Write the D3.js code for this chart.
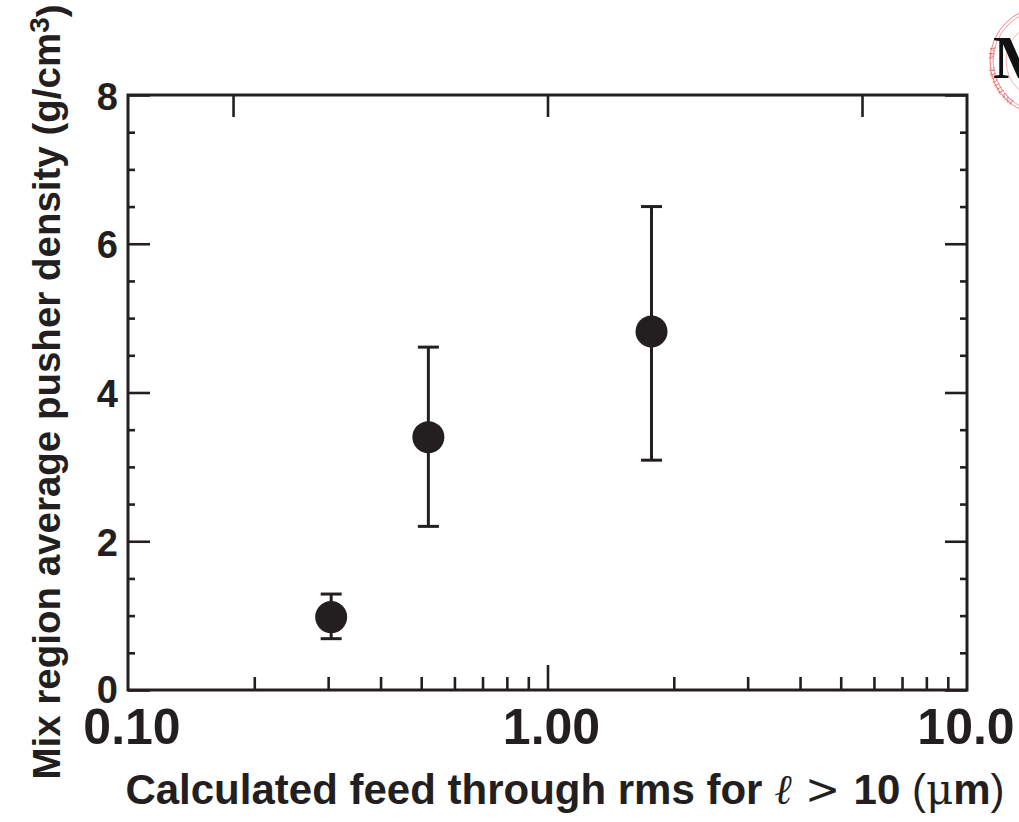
<!DOCTYPE html>
<html>
<head>
<meta charset="utf-8">
<script src="https://cdn.jsdelivr.net/npm/d3@7"></script>
<style>
  body { margin: 0; background: #fff; }
  svg text { font-family: "Liberation Sans", Arial, Helvetica, sans-serif; }
</style>
</head>
<body>
<div id="chart"></div>
<script>
// data
const feed = [0.305, 0.52, 1.77];          // x, rms feed through (um)
const density = [0.98, 3.40, 4.82];        // y, g/cm3
const errLow = [0.69, 2.20, 3.09];
const errHigh = [1.29, 4.61, 6.50];

const xLabels = [0.1, 1, 10];
const xLabelText = ["0.10", "1.00", "10.0"];
const xMinor = [0.2, 0.3, 0.4, 0.5, 0.6, 0.7, 0.8, 0.9, 2, 3, 4, 5, 6, 7, 8, 9];
const xMajor = [1];
const topTicks = [0.178, 1.0, 5.62];
const yMajor = [0, 2, 4, 6, 8];
const yMinor = [0.5, 1, 1.5, 2.5, 3, 3.5, 4.5, 5, 5.5, 6.5, 7, 7.5];

const W = 1019, H = 822;
const ink = "#231f20";

const svg = d3.select("#chart").append("svg")
    .attr("width", W)
    .attr("height", H);

const x = d3.scaleLog().domain([0.1, 10]).range([128, 967]);
const y = d3.scaleLinear().domain([0, 8]).range([690, 95]);

// seal in the corner, cut by the page edge
const seal = svg.append("g").attr("transform", "translate(1044,61)");
seal.append("circle").attr("r", 54).attr("fill", "none").attr("stroke", "#f08080").attr("stroke-width", 1);
seal.append("circle").attr("r", 51).attr("fill", "none").attr("stroke", "#f08080").attr("stroke-width", 0.8);
seal.append("circle").attr("r", 38).attr("fill", "none").attr("stroke", "#f4a0a0").attr("stroke-width", 0.8);
seal.append("path").attr("id", "sealArc")
    .attr("d", "M -30,40 A 50,50 0 0,1 -40,-30")
    .attr("fill", "none");
seal.append("text")
    .attr("font-size", 8)
    .attr("fill", "#e06060")
    .style("font-family", "Liberation Serif, serif")
    .append("textPath")
    .attr("href", "#sealArc")
    .text("INSTITUTE · MA");
seal.append("text")
    .attr("x", -51).attr("y", 17)
    .attr("font-size", 62)
    .attr("font-weight", "bold")
    .attr("fill", "#111")
    .style("font-family", "Liberation Serif, 'DejaVu Serif', serif")
    .text("M");

// ticks, all pointing inward
function ticks(axis, vals, size, tr) {
    const g = svg.append("g").attr("transform", tr)
        .call(axis.tickValues(vals).tickSize(-size).tickFormat(""));
    g.select(".domain").remove();
    g.selectAll("line").attr("stroke", ink).attr("stroke-width", 2.6);
    return g;
}
ticks(d3.axisBottom(x), xMinor, 13, "translate(0,690)");
ticks(d3.axisBottom(x), xMajor, 25, "translate(0,690)");
ticks(d3.axisTop(x), topTicks, 22, "translate(0,95)");
ticks(d3.axisLeft(y), yMajor, 22, "translate(128,0)");
ticks(d3.axisLeft(y), yMinor, 7, "translate(128,0)");
ticks(d3.axisRight(y), yMajor, 22, "translate(967,0)");
ticks(d3.axisRight(y), yMinor, 7, "translate(967,0)");

// frame
svg.append("rect")
    .attr("x", 128).attr("y", 95)
    .attr("width", 967 - 128).attr("height", 690 - 95)
    .attr("fill", "none")
    .attr("stroke", ink)
    .attr("stroke-width", 3);

// tick labels
svg.append("g").selectAll("text")
    .data(yMajor)
    .join("text")
    .attr("x", 118)
    .attr("y", d => y(d) + (d === 0 ? -1 : 1))
    .attr("dy", "0.36em")
    .attr("text-anchor", "end")
    .attr("font-size", 38)
    .attr("font-weight", "bold")
    .attr("fill", ink)
    .text(d => d);

svg.append("g").selectAll("text")
    .data(xLabels)
    .join("text")
    .attr("x", d => x(d) + (d === 10 ? -1 : 4))
    .attr("y", 744)
    .attr("text-anchor", "middle")
    .attr("font-size", 50)
    .attr("font-weight", "bold")
    .attr("fill", ink)
    .text((d, i) => xLabelText[i]);

// error bars and points
const pts = feed.map((f, i) => ({ x: f, y: density[i], lo: errLow[i], hi: errHigh[i] }));
const cap = 10.5;
const pg = svg.append("g");
pg.selectAll("line.bar")
    .data(pts).join("line")
    .attr("class", "bar")
    .attr("x1", d => x(d.x)).attr("x2", d => x(d.x))
    .attr("y1", d => y(d.lo)).attr("y2", d => y(d.hi))
    .attr("stroke", ink).attr("stroke-width", 3);
pg.selectAll("line.capHi")
    .data(pts).join("line")
    .attr("class", "capHi")
    .attr("x1", d => x(d.x) - cap).attr("x2", d => x(d.x) + cap)
    .attr("y1", d => y(d.hi)).attr("y2", d => y(d.hi))
    .attr("stroke", ink).attr("stroke-width", 3);
pg.selectAll("line.capLo")
    .data(pts).join("line")
    .attr("class", "capLo")
    .attr("x1", d => x(d.x) - cap).attr("x2", d => x(d.x) + cap)
    .attr("y1", d => y(d.lo)).attr("y2", d => y(d.lo))
    .attr("stroke", ink).attr("stroke-width", 3);
pg.selectAll("circle")
    .data(pts).join("circle")
    .attr("cx", d => x(d.x))
    .attr("cy", d => y(d.y))
    .attr("r", 16)
    .attr("fill", ink);

// axis titles
const yt = svg.append("text")
    .attr("transform", "translate(60,392) rotate(-90)")
    .attr("text-anchor", "middle")
    .attr("font-size", 38.5)
    .attr("font-weight", "bold")
    .attr("fill", ink);
yt.append("tspan").text("Mix region average pusher density (g/cm");
yt.append("tspan").attr("dy", "-0.4em").attr("font-size", 28).text("3");
yt.append("tspan").attr("dy", "0.4em").text(")");

const xt = svg.append("text")
    .attr("x", 565)
    .attr("y", 804)
    .attr("text-anchor", "middle")
    .attr("font-size", 42)
    .attr("font-weight", "bold")
    .attr("fill", ink);
xt.append("tspan").text("Calculated feed through rms for ");
xt.append("tspan").attr("font-weight", "normal").attr("font-style", "italic")
    .style("font-family", "'DejaVu Serif', serif").text("ℓ");
xt.append("tspan").attr("font-weight", "normal")
    .style("font-family", "'DejaVu Serif', serif").text(" > ");
xt.append("tspan").text("10 ");
xt.append("tspan").attr("font-weight", "normal").text("(");
xt.append("tspan").attr("font-weight", "normal")
    .style("font-family", "'DejaVu Serif', serif").text("μ");
xt.append("tspan").text("m");
xt.append("tspan").attr("font-weight", "normal").text(")");
</script>
</body>
</html>
